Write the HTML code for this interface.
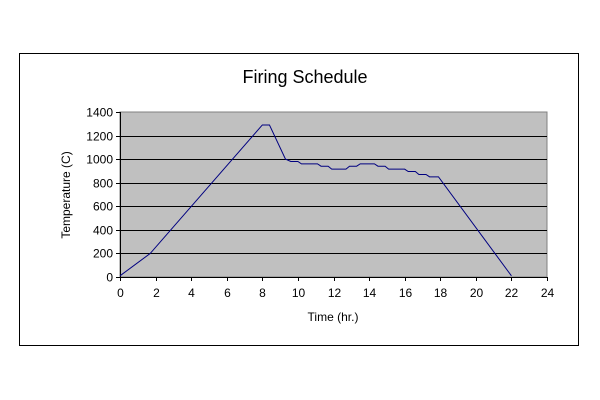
<!DOCTYPE html>
<html><head><meta charset="utf-8"><style>
body{margin:0;background:#fff;}
svg{display:block;font-family:"Liberation Sans",Arial,sans-serif;}
</style></head><body>
<svg width="600" height="400">
<rect x="19.5" y="53.5" width="559" height="292" fill="#fff" stroke="#000"/>
<text x="305" y="83" font-size="18" text-anchor="middle">Firing Schedule</text>
<rect x="120" y="112" width="427" height="165" fill="#c0c0c0" stroke="#808080"/>
<g id="grid"></g><g id="axes"></g>
<polyline id="line" fill="none" stroke="#000080" stroke-width="1"/>
<text x="333" y="321" font-size="12" text-anchor="middle">Time (hr.)</text>
<text transform="translate(70,195) rotate(-90)" font-size="12" text-anchor="middle">Temperature (C)</text>
</svg>
<script>
const times=[0,1.7,8,8.4,9.3,9.6,10.0,10.2,11.1,11.3,11.7,11.9,12.7,12.9,13.3,13.5,14.3,14.5,14.9,15.1,16.0,16.2,16.6,16.8,17.2,17.4,17.9,22];
const temps=[10,200,1290,1290,1000,980,980,960,960,940,940,915,915,940,940,960,960,940,940,915,915,895,895,870,870,850,850,10];
const xTicks=[0,2,4,6,8,10,12,14,16,18,20,22,24];
const yTicks=[0,200,400,600,800,1000,1200,1400];
const X0=120,X1=547,Y0=277,Y1=112;
const sx=v=>X0+(v-0)/24*(X1-X0);
const sy=v=>Y0-(v/1400)*(Y0-Y1);
const NS="http://www.w3.org/2000/svg";
const grid=document.getElementById('grid'),axes=document.getElementById('axes');
function mk(tag,attrs,parent){const e=document.createElementNS(NS,tag);for(const k in attrs)e.setAttribute(k,attrs[k]);parent.appendChild(e);return e;}
yTicks.forEach(t=>{
 const y=Math.round(sy(t))+0.5;
 if(t>0&&t<1400){const g=mk('line',{x1:X0,x2:X1,y1:y,y2:y,stroke:'#000'},grid);
 
 }
 const tk=mk('line',{x1:X0-4,x2:X0,y1:y,y2:y,stroke:'#000'},axes);
 
 
 const tx=mk('text',{x:X0-7,y:y+4,'font-size':12,'text-anchor':'end'},axes);
 tx.textContent=t;
 
 
});
xTicks.forEach(t=>{
 const x=Math.round(sx(t))+0.5;
 const tk=mk('line',{x1:x,x2:x,y1:Y0,y2:Y0+4,stroke:'#000'},axes);
 
 
 const tx=mk('text',{x:x,y:Y0+20,'font-size':12,'text-anchor':'middle'},axes);
 tx.textContent=t;
 
 
});
const ax=mk('line',{x1:X0+0.5,x2:X0+0.5,y1:Y1,y2:Y0,stroke:'#000'},axes);


const bx=mk('line',{x1:X0,x2:X1,y1:Y0+0.5,y2:Y0+0.5,stroke:'#000'},axes);


document.getElementById('line').setAttribute('points',times.map((t,i)=>sx(t)+','+sy(temps[i])).join(' '));
</script>
</body></html>
